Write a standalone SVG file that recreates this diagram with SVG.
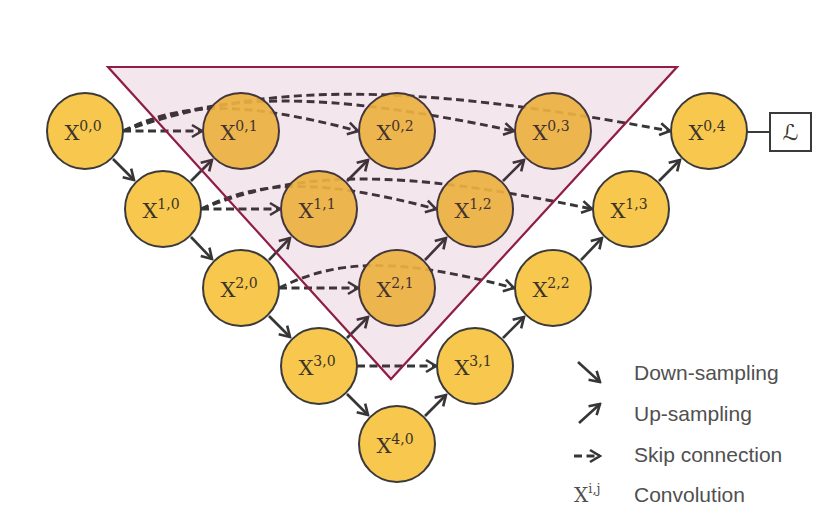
<svg xmlns="http://www.w3.org/2000/svg" width="839" height="508" viewBox="0 0 839 508">
  <style>
    .node { fill: #F7C23E; fill-opacity: 0.92; stroke: #3a3a3a; stroke-width: 2; }
    .lbl { font-family: "DejaVu Serif", "Liberation Serif", serif; font-size: 21px; fill: #3a3428; text-anchor: middle; }
    .sup { font-size: 14px; }
    .conv { fill: none; stroke: #363636; stroke-width: 2.6; marker-end: url(#head); }
    .skip { fill: none; stroke: #363636; stroke-width: 2.9; stroke-dasharray: 8 4.5; marker-end: url(#head); }
    .legtxt { font-family: "Liberation Sans", Arial, sans-serif; font-size: 21px; fill: #505050; }
  </style>
  <defs>
    <marker id="head" viewBox="-2 -2 14 16" markerWidth="14" markerHeight="16" refX="10" refY="6" orient="auto" markerUnits="userSpaceOnUse">
      <path d="M0,0 L10,6 L0,12" fill="none" stroke="#363636" stroke-width="2.6" stroke-linejoin="miter"/>
    </marker>
  </defs>

  <rect width="839" height="508" fill="#ffffff"/>

  <!-- connectors: down-sampling, up-sampling and skip connections -->
  <g id="connectors">
    <!-- down-sampling -->
    <path class="conv" d="M113,159 L134,180"/>
    <path class="conv" d="M191,237 L212,259"/>
    <path class="conv" d="M269,316 L290,337"/>
    <path class="conv" d="M347,394 L368,415"/>
    <!-- up-sampling -->
    <path class="conv" d="M191,181 L212,160"/>
    <path class="conv" d="M269,260 L290,238"/>
    <path class="conv" d="M347,181 L368,160"/>
    <path class="conv" d="M347,338 L368,317"/>
    <path class="conv" d="M425,260 L446,238"/>
    <path class="conv" d="M503,181 L524,160"/>
    <path class="conv" d="M425,416 L446,395"/>
    <path class="conv" d="M503,338 L524,317"/>
    <path class="conv" d="M581,260 L602,238"/>
    <path class="conv" d="M659,181 L680,160"/>
    <!-- skip connections, level 0 -->
    <path class="skip" d="M123,131 L202,131"/>
    <path class="skip" d="M123,131 C182,102 240,100 358,131"/>
    <path class="skip" d="M123,131 C221,92 318,90 514,131"/>
    <path class="skip" d="M123,131 C260,84 396,80 670,131"/>
    <!-- skip connections, level 1 -->
    <path class="skip" d="M201,209 L280,209"/>
    <path class="skip" d="M201,209 C260,180 318,178 436,209"/>
    <path class="skip" d="M201,209 C299,170 396,168 592,209"/>
    <!-- skip connections, level 2 -->
    <path class="skip" d="M279,288 L358,288"/>
    <path class="skip" d="M279,288 C338,259 396,257 514,288"/>
    <!-- skip connection, level 3 -->
    <path class="skip" d="M357,366 L436,366"/>
  </g>

  <!-- convolution nodes -->
  <g id="nodes">
    <g id="x00"><circle class="node" cx="85" cy="131" r="38"/><text class="lbl" x="83" y="140">X<tspan class="sup" dy="-9">0,0</tspan></text></g>
    <g id="x01"><circle class="node" cx="241" cy="131" r="38"/><text class="lbl" x="239" y="140">X<tspan class="sup" dy="-9">0,1</tspan></text></g>
    <g id="x02"><circle class="node" cx="397" cy="131" r="38"/><text class="lbl" x="395" y="140">X<tspan class="sup" dy="-9">0,2</tspan></text></g>
    <g id="x03"><circle class="node" cx="553" cy="131" r="38"/><text class="lbl" x="551" y="140">X<tspan class="sup" dy="-9">0,3</tspan></text></g>
    <g id="x04"><circle class="node" cx="709" cy="131" r="38"/><text class="lbl" x="707" y="140">X<tspan class="sup" dy="-9">0,4</tspan></text></g>
    <g id="x10"><circle class="node" cx="163" cy="209" r="38"/><text class="lbl" x="161" y="218">X<tspan class="sup" dy="-9">1,0</tspan></text></g>
    <g id="x11"><circle class="node" cx="319" cy="209" r="38"/><text class="lbl" x="317" y="218">X<tspan class="sup" dy="-9">1,1</tspan></text></g>
    <g id="x12"><circle class="node" cx="475" cy="209" r="38"/><text class="lbl" x="473" y="218">X<tspan class="sup" dy="-9">1,2</tspan></text></g>
    <g id="x13"><circle class="node" cx="631" cy="209" r="38"/><text class="lbl" x="629" y="218">X<tspan class="sup" dy="-9">1,3</tspan></text></g>
    <g id="x20"><circle class="node" cx="241" cy="288" r="38"/><text class="lbl" x="239" y="297">X<tspan class="sup" dy="-9">2,0</tspan></text></g>
    <g id="x21"><circle class="node" cx="397" cy="288" r="38"/><text class="lbl" x="395" y="297">X<tspan class="sup" dy="-9">2,1</tspan></text></g>
    <g id="x22"><circle class="node" cx="553" cy="288" r="38"/><text class="lbl" x="551" y="297">X<tspan class="sup" dy="-9">2,2</tspan></text></g>
    <g id="x30"><circle class="node" cx="319" cy="366" r="38"/><text class="lbl" x="317" y="375">X<tspan class="sup" dy="-9">3,0</tspan></text></g>
    <g id="x31"><circle class="node" cx="475" cy="366" r="38"/><text class="lbl" x="473" y="375">X<tspan class="sup" dy="-9">3,1</tspan></text></g>
    <g id="x40"><circle class="node" cx="397" cy="444" r="38"/><text class="lbl" x="395" y="453">X<tspan class="sup" dy="-9">4,0</tspan></text></g>
  </g>

  <!-- highlighted nested region -->
  <g id="region">
    <polygon points="108,67 677,67 391,379" fill="#96205A" fill-opacity="0.11" stroke="#8F1D45" stroke-width="2.2" stroke-linejoin="miter"/>
  </g>

  <!-- loss box -->
  <g id="loss">
    <path d="M747,132 L770,132" stroke="#3a3a3a" stroke-width="2"/>
    <rect x="770" y="113" width="41" height="38" fill="#ffffff" stroke="#3a3a3a" stroke-width="2"/>
    <text x="790.5" y="140" font-family="DejaVu Serif, DejaVu Sans, serif" font-size="22" font-style="italic" fill="#3a3428" text-anchor="middle">ℒ</text>
  </g>

  <!-- legend -->
  <g id="legend">
    <path class="conv" d="M578,362 L600,382"/>
    <path class="conv" d="M579,423 L600,404"/>
    <path class="skip" d="M574,456 L600,456" stroke-dasharray="9 6"/>
    <text x="574" y="502" font-family="DejaVu Serif, Liberation Serif, serif" font-size="20" fill="#505050">X<tspan font-size="13" dy="-9">i,j</tspan></text>
    <text class="legtxt" x="634" y="380">Down-sampling</text>
    <text class="legtxt" x="634" y="421">Up-sampling</text>
    <text class="legtxt" x="634" y="462">Skip connection</text>
    <text class="legtxt" x="634" y="502">Convolution</text>
  </g>
</svg>
